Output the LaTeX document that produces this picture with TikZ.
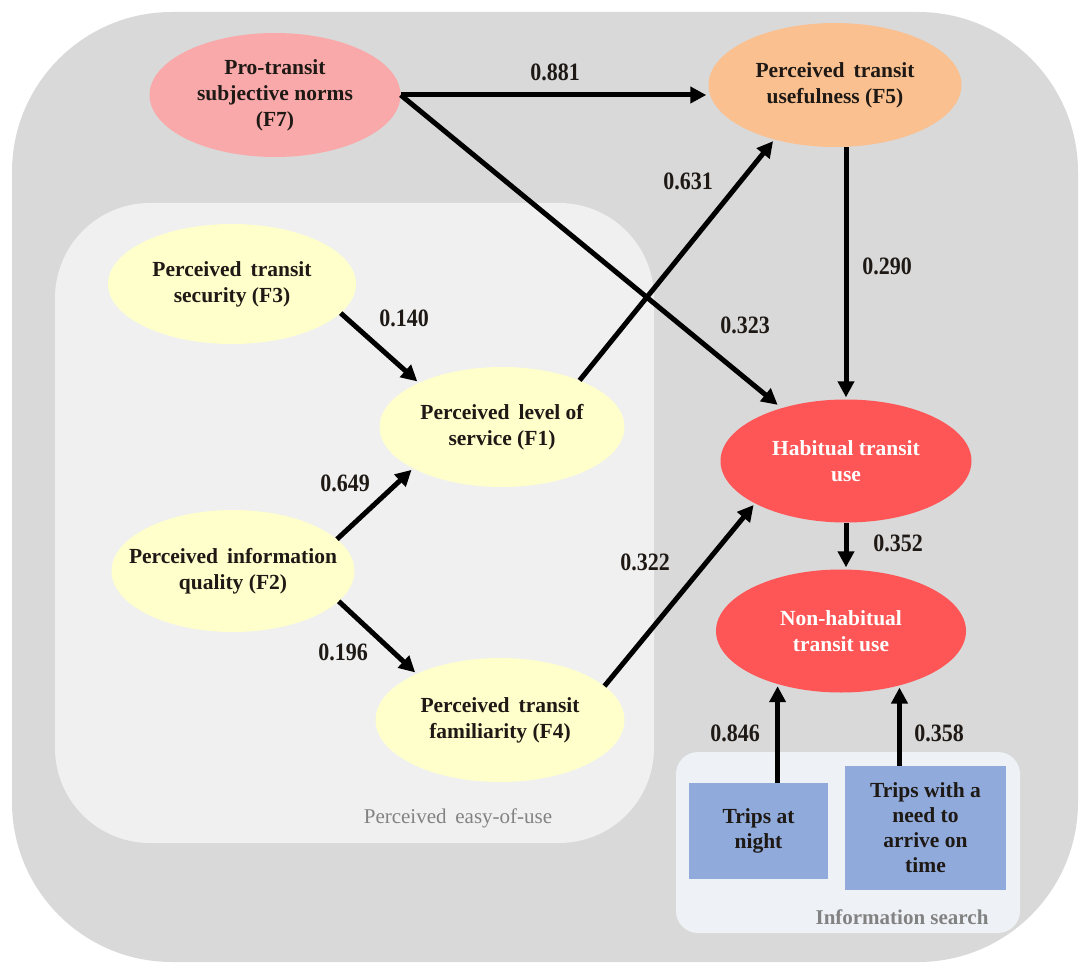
\documentclass[tikz,border=0pt]{standalone}
\usepackage{fontspec}
\setmainfont{Liberation Serif}
\newfontfamily\numfont[FakeStretch=0.88]{Liberation Serif}
\usetikzlibrary{shapes.geometric,arrows.meta}

\definecolor{outergray}{HTML}{D9D9D9}
\definecolor{easygray}{HTML}{F0F0F0}
\definecolor{infobg}{HTML}{EEF1F6}
\definecolor{pinkF}{HTML}{F9A9A9}
\definecolor{orangeF}{HTML}{FAC08F}
\definecolor{yellowF}{HTML}{FFFFCC}
\definecolor{redF}{HTML}{FE5656}
\definecolor{blueB}{HTML}{8FAADB}
\definecolor{inkdark}{HTML}{1E1915}
\definecolor{grouplabel}{HTML}{828282}

\begin{document}
\begin{tikzpicture}[x=1pt,y=-1pt,
  ell/.style={ellipse, inner sep=0pt, draw=none},
  etxt/.style={font=\bfseries\fontsize{21.5}{26}\selectfont, align=center, text=inkdark, inner sep=0pt},
  wtxt/.style={font=\bfseries\fontsize{21.5}{26}\selectfont, align=center, text=white, inner sep=0pt},
  box/.style={rectangle, fill=blueB, inner sep=0pt, align=center, text=inkdark,
              font=\bfseries\fontsize{21.5}{25}\selectfont},
  coef/.style={font=\numfont\bfseries\fontsize{25}{28}\selectfont, text=inkdark, inner sep=0pt},
  grp/.style={font=\fontsize{21}{24}\selectfont, text=grouplabel, inner sep=0pt},
  arr/.style={line width=5pt, draw=black, -{Triangle[length=16pt,width=16pt]}, shorten >=2pt}
]
\useasboundingbox (0,0) rectangle (1080,963);

% group backgrounds
\fill[white] (0,0) rectangle (1080,963);
\begin{scope}
  \clip (0,0) rectangle (1080,963);
  \fill[outergray, rounded corners=160pt] (12,12) rectangle (1078,962);
\end{scope}
\fill[easygray, rounded corners=95pt] (55,203) rectangle (654,843);
\fill[infobg, rounded corners=22pt] (676,752) rectangle (1020,933);

% group captions
\node[grp] (easylabel) at (458,818) {Perceived\, easy-of-use};
\node[grp, font=\bfseries\fontsize{21}{24}\selectfont] (infolabel) at (902,917) {Information search};

% latent constructs
\node[ell, fill=pinkF, minimum width=251, minimum height=124,
      label={[etxt]center:{Pro-transit\\subjective norms\\(F7)}}] (f7) at (275,95) {};
\node[ell, fill=orangeF, minimum width=253, minimum height=124,
      label={[etxt]center:{Perceived\, transit\\usefulness (F5)}}] (f5) at (835,85) {};
\node[ell, fill=yellowF, minimum width=248, minimum height=120,
      label={[etxt]center:{Perceived\, transit\\security (F3)}}] (f3) at (232,284) {};
\node[ell, fill=yellowF, minimum width=245, minimum height=120,
      label={[etxt]center:{Perceived\, level of\\service (F1)}}] (f1) at (502,427) {};
\node[ell, fill=yellowF, minimum width=243, minimum height=122,
      label={[etxt]center:{Perceived\, information\\quality (F2)}}] (f2) at (233,571) {};
\node[ell, fill=yellowF, minimum width=249, minimum height=124,
      label={[etxt]center:{Perceived\, transit\\familiarity (F4)}}] (f4) at (500,720) {};
\node[ell, fill=redF, minimum width=251, minimum height=123,
      label={[wtxt]center:{Habitual transit\\use}}] (hab) at (846,461) {};
\node[ell, fill=redF, minimum width=250, minimum height=123,
      label={[wtxt]center:{Non-habitual\\transit use}}] (nonhab) at (841,631) {};

% observed trip types
\node[box, minimum width=139, minimum height=96] (night) at (758.5,831) {Trips at\\night};
\node[box, minimum width=161, minimum height=124] (need) at (925.5,828) {Trips with a\\need to\\arrive on\\time};

% paths
\draw[arr] (f7.east) -- (f5.west |- f7.east);
\draw[arr, shorten >=5pt] (f7.east) -- (hab);
\draw[arr] (hab.north |- f5.south) -- (hab.north);
\draw[arr] (f1.31) -- (f5.222);
\draw[arr] (f3.-15) -- (f1.152);
\draw[arr] (f2.17) -- (f1.205);
\draw[arr] (f2.-16) -- (f4.151);
\draw[arr] (f4.18) -- (hab.205);
\draw[arr] (hab.south) -- (nonhab.north -| hab.south);
\draw[arr] (night.north -| nonhab.220) -- (nonhab.220);
\draw[arr] (need.north -| nonhab.317) -- (nonhab.317);

% path coefficients
\node[coef] (c881) at (555,72) {0.881};
\node[coef] (c631) at (688,181) {0.631};
\node[coef] (c290) at (887,266) {0.290};
\node[coef] (c323) at (745,325) {0.323};
\node[coef] (c140) at (404,318) {0.140};
\node[coef] (c649) at (345,483) {0.649};
\node[coef] (c196) at (343,652) {0.196};
\node[coef] (c322) at (645,562) {0.322};
\node[coef] (c352) at (898,543) {0.352};
\node[coef] (c846) at (735,733) {0.846};
\node[coef] (c358) at (939,733) {0.358};
\end{tikzpicture}
\end{document}
